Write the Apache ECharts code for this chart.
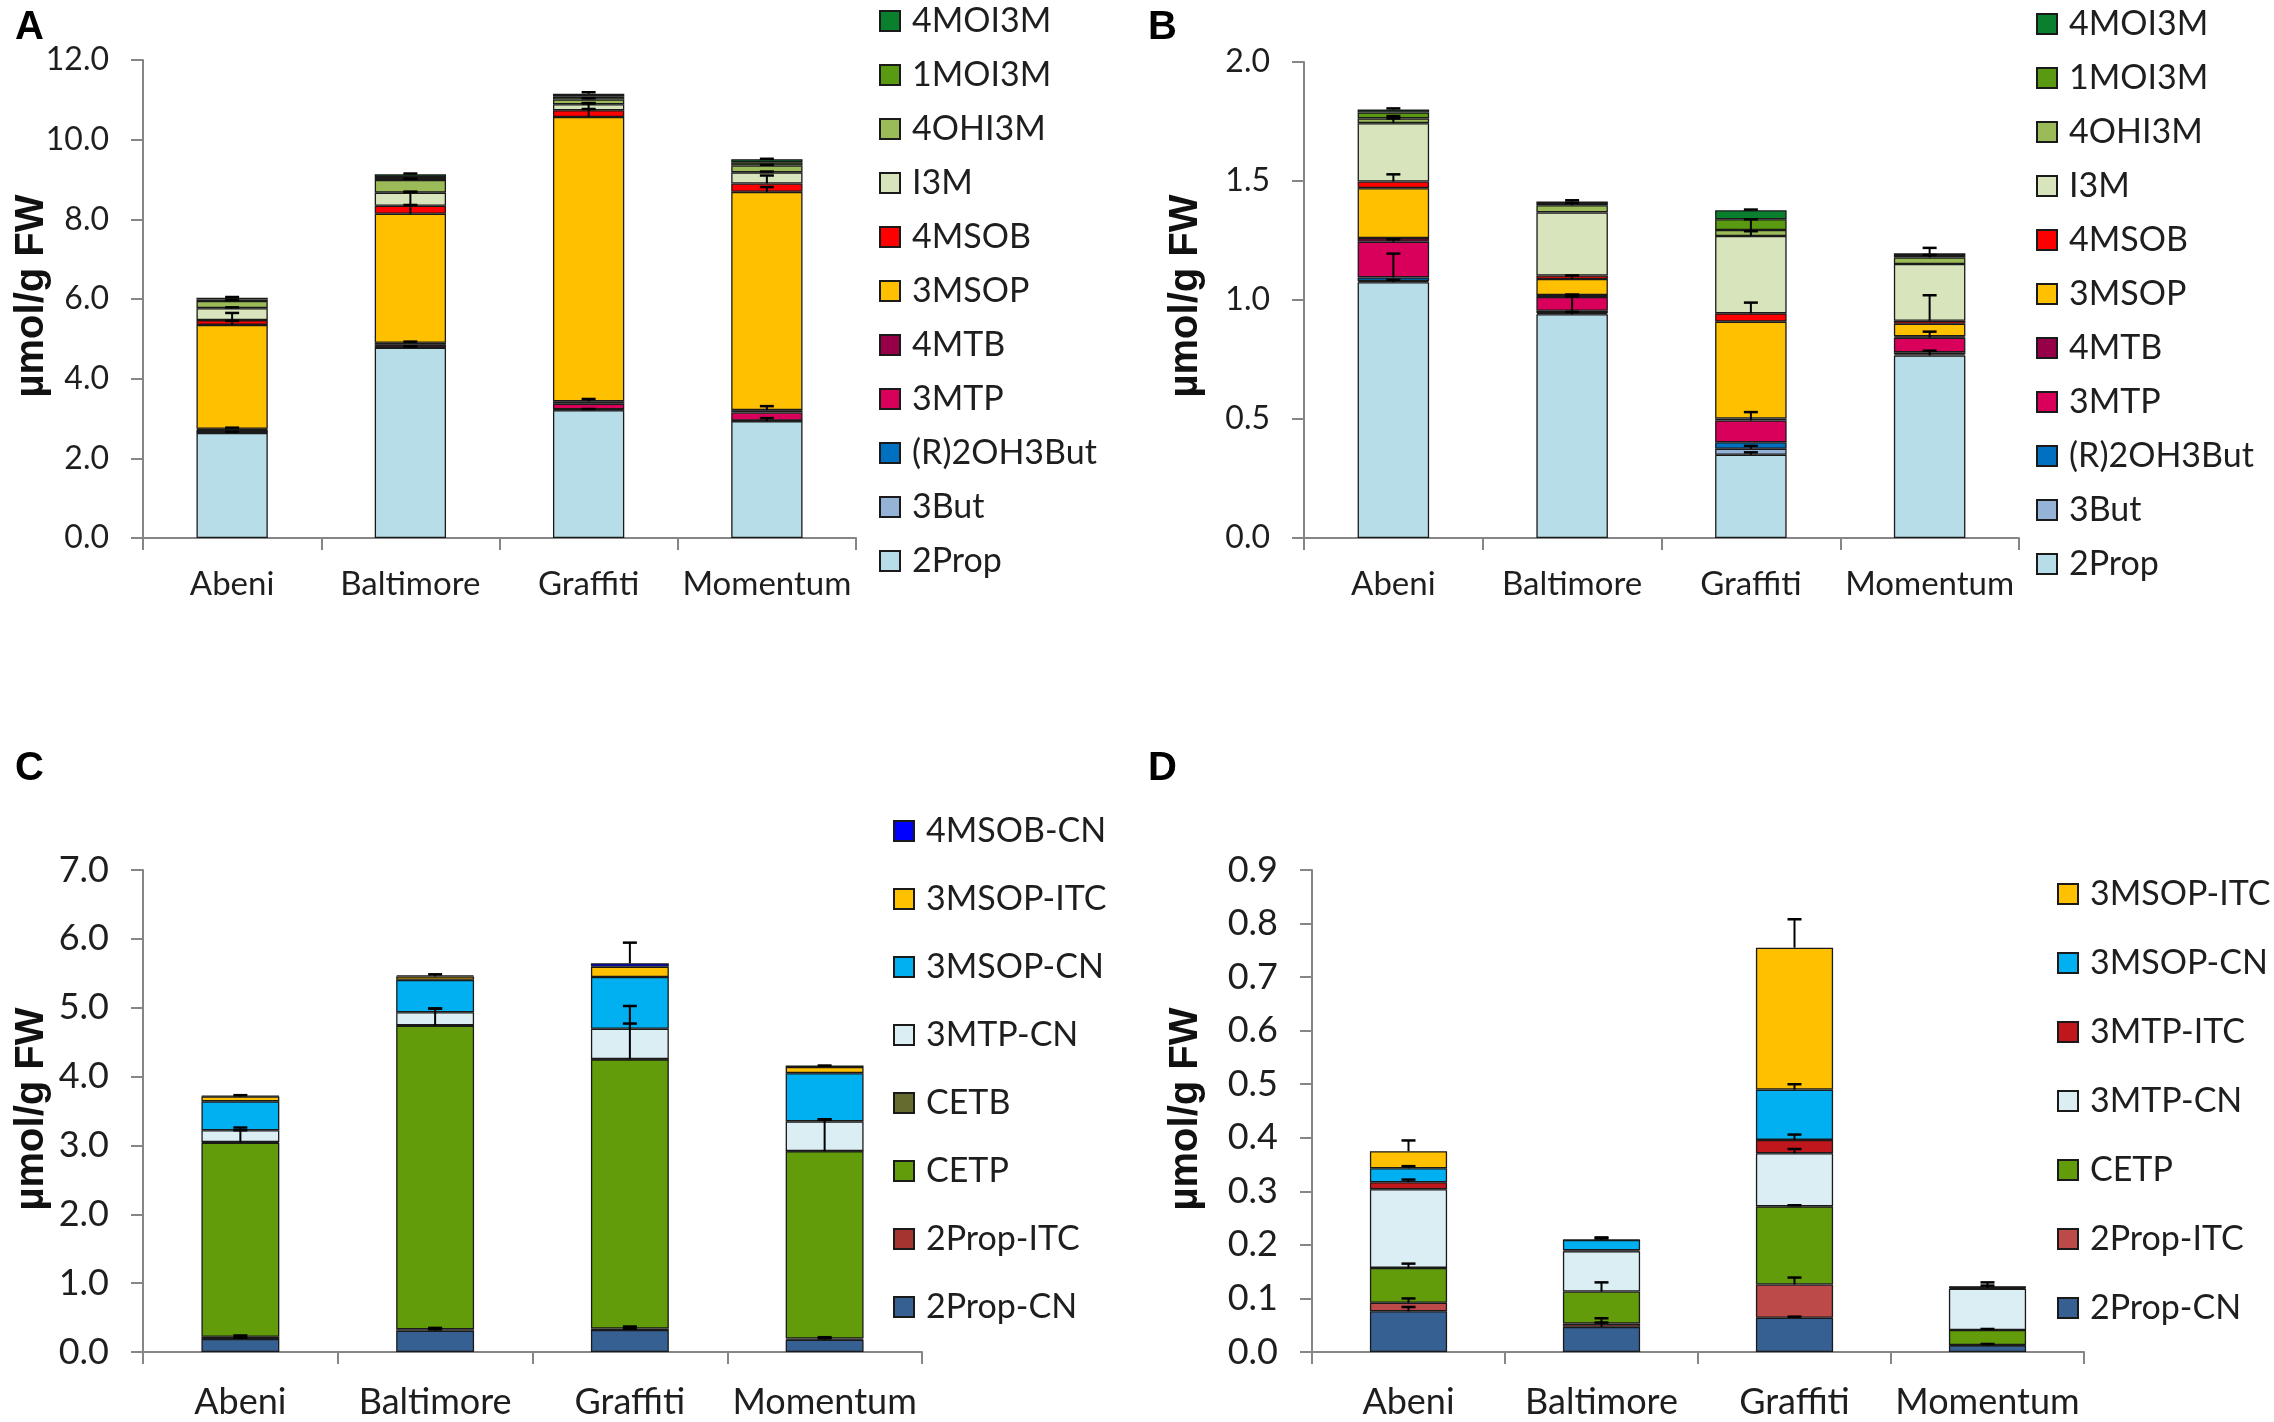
<!DOCTYPE html>
<html><head><meta charset="utf-8">
<script src="https://cdn.jsdelivr.net/npm/echarts@6/dist/echarts.min.js"></script>
<style>
html,body{margin:0;padding:0;background:#fff;width:2274px;height:1422px;overflow:hidden}
.p{position:absolute;width:1137px;height:711px}
</style></head>
<body>
<div id="pA" class="p" style="left:0;top:0"></div>
<div id="pB" class="p" style="left:1137px;top:0"></div>
<div id="pC" class="p" style="left:0;top:711px"></div>
<div id="pD" class="p" style="left:1137px;top:711px"></div>
<script>
// ---------- shared categories ----------
const categories = ['Abeni', 'Baltimore', 'Graffiti', 'Momentum'];

// ---------- Panel A (series bottom -> top) ----------
const seriesNamesA = ['2Prop', '3But', '(R)2OH3But', '3MTP', '4MTB', '3MSOP', '4MSOB', 'I3M', '4OHI3M', '1MOI3M', '4MOI3M'];
const A_2Prop   = [2.64, 4.78, 3.21, 2.93];
const A_3But    = [0.01, 0.01, 0.01, 0.01];
const A_R2OH3But= [0.01, 0.01, 0.01, 0.01];
const A_3MTP    = [0.06, 0.05, 0.14, 0.20];
const A_4MTB    = [0.02, 0.05, 0.06, 0.06];
const A_3MSOP   = [2.61, 3.24, 7.14, 5.48];
const A_4MSOB   = [0.12, 0.20, 0.17, 0.21];
const A_I3M     = [0.30, 0.33, 0.15, 0.28];
const A_4OHI3M  = [0.18, 0.32, 0.12, 0.17];
const A_1MOI3M  = [0.04, 0.07, 0.07, 0.08];
const A_4MOI3M  = [0.04, 0.07, 0.07, 0.08];
// error (SD, plus direction) at top of each segment
const Ae_2Prop   = [0.03, 0.03, 0.03, 0.08];
const Ae_3But    = [0, 0, 0, 0];
const Ae_R2OH3But= [0, 0, 0, 0];
const Ae_3MTP    = [0, 0, 0, 0];
const Ae_4MTB    = [0.03, 0.03, 0.06, 0.10];
const Ae_3MSOP   = [0.10, 0.22, 0.20, 0.12];
const Ae_4MSOB   = [0.18, 0.35, 0.17, 0.20];
const Ae_I3M     = [0.02, 0.02, 0.03, 0.02];
const Ae_4OHI3M  = [0.02, 0.03, 0.03, 0.02];
const Ae_1MOI3M  = [0, 0, 0, 0];
const Ae_4MOI3M  = [0.02, 0.02, 0.04, 0.01];
const yTicksA = [0, 12, 2];

// ---------- Panel B ----------
const B_2Prop   = [1.075, 0.94, 0.35, 0.767];
const B_3But    = [0.005, 0.005, 0.025, 0.005];
const B_R2OH3But= [0.015, 0.01, 0.027, 0.008];
const B_3MTP    = [0.15, 0.058, 0.092, 0.062];
const B_4MTB    = [0.015, 0.008, 0.008, 0.005];
const B_3MSOP   = [0.21, 0.067, 0.407, 0.053];
const B_4MSOB   = [0.028, 0.015, 0.035, 0.013];
const B_I3M     = [0.245, 0.265, 0.325, 0.238];
const B_4OHI3M  = [0.02, 0.03, 0.025, 0.028];
const B_1MOI3M  = [0.025, 0.01, 0.045, 0.01];
const B_4MOI3M  = [0.012, 0.006, 0.038, 0.007];
const Be_2Prop   = [0.01, 0.01, 0.01, 0.02];
const Be_3But    = [0, 0, 0.012, 0];
const Be_R2OH3But= [0.10, 0.06, 0, 0];
const Be_3MTP    = [0.01, 0.01, 0.035, 0.025];
const Be_4MTB    = [0, 0, 0, 0];
const Be_3MSOP   = [0, 0.015, 0, 0];
const Be_4MSOB   = [0.03, 0, 0.045, 0.107];
const Be_I3M     = [0.02, 0, 0.02, 0];
const Be_4OHI3M  = [0.01, 0.01, 0.045, 0.01];
const Be_1MOI3M  = [0, 0, 0, 0.03];
const Be_4MOI3M  = [0.005, 0.005, 0.003, 0];
const yTicksB = [0, 2, 0.5];

// ---------- Panel C ----------
const seriesNamesC = ['2Prop-CN', '2Prop-ITC', 'CETP', 'CETB', '3MTP-CN', '3MSOP-CN', '3MSOP-ITC', '4MSOB-CN'];
const C_2PropCN  = [0.19, 0.31, 0.32, 0.18];
const C_2PropITC = [0.03, 0.02, 0.02, 0.015];
const C_CETP     = [2.82, 4.41, 3.91, 2.72];
const C_CETB     = [0.01, 0.005, 0.005, 0.005];
const C_3MTPCN   = [0.17, 0.19, 0.44, 0.43];
const C_3MSOPCN  = [0.42, 0.47, 0.75, 0.70];
const C_3MSOPITC = [0.07, 0.05, 0.15, 0.09];
const C_4MSOBCN  = [0.01, 0.015, 0.05, 0.02];
const Ce_2PropCN  = [0.02, 0.02, 0.02, 0.02];
const Ce_2PropITC = [0.02, 0.02, 0.03, 0.02];
const Ce_CETP     = [0.18, 0.25, 0.52, 0.46];
const Ce_CETB     = [0, 0, 0, 0];
const Ce_3MTPCN   = [0.04, 0.05, 0.33, 0.03];
const Ce_3MSOPCN  = [0, 0, 0, 0];
const Ce_3MSOPITC = [0.02, 0.03, 0, 0.02];
const Ce_4MSOBCN  = [0, 0, 0.30, 0];
const yTicksC = [0, 7, 1];

// ---------- Panel D ----------
const seriesNamesD = ['2Prop-CN', '2Prop-ITC', 'CETP', '3MTP-CN', '3MTP-ITC', '3MSOP-CN', '3MSOP-ITC'];
const D_2PropCN  = [0.076, 0.047, 0.064, 0.012];
const D_2PropITC = [0.016, 0.006, 0.062, 0.001];
const D_CETP     = [0.065, 0.060, 0.146, 0.028];
const D_3MTPCN   = [0.147, 0.075, 0.099, 0.077];
const D_3MTPITC  = [0.013, 0.002, 0.025, 0.002];
const D_3MSOPCN  = [0.026, 0.019, 0.094, 0.001];
const D_3MSOPITC = [0.032, 0.001, 0.265, 0.001];
const De_2PropCN  = [0.008, 0.008, 0.002, 0.003];
const De_2PropITC = [0.008, 0.010, 0.013, 0];
const De_CETP     = [0.008, 0.017, 0.002, 0.002];
const De_3MTPCN   = [0, 0, 0.008, 0];
const De_3MTPITC  = [0.005, 0, 0.010, 0.010];
const De_3MSOPCN  = [0.004, 0.005, 0.010, 0];
const De_3MSOPITC = [0.020, 0.002, 0.053, 0.002];
const yTicksD = [0, 0.9, 0.1];

const yTitle = 'µmol/g FW';

// ---------- styles ----------
const colorsAB = ['#B7DEE8', '#95B3D7', '#0070C0', '#D9005B', '#970049', '#FFC000', '#FF0000', '#D7E4BC', '#9BBB59', '#5A9A12', '#0A7F2E'];
const colorsC = ['#376092', '#A5332F', '#629C0A', '#656B2F', '#DAEEF3', '#00B0F0', '#FFC000', '#0000FF'];
const colorsD = ['#376092', '#BC4A48', '#629C0A', '#DAEEF3', '#C0171C', '#00B0F0', '#FFC000'];
const FONT = 'Lato, "Open Sans", sans-serif';
const AXIS_COLOR = '#868686';
const TEXT_COLOR = '#1e1e1e';

function buildPanel(elId, p) {
  const chart = echarts.init(document.getElementById(elId), null, {renderer: 'canvas'});
  const series = p.names.map((n, k) => ({
    name: n, type: 'bar', stack: 'total', barWidth: '40%',
    data: p.values[k],
    itemStyle: {color: p.colors[k], borderColor: '#1a1a1a', borderWidth: 1.3},
    emphasis: {disabled: true}
  }));
  const errData = [];
  categories.forEach((c, i) => {
    let cum = 0;
    p.values.forEach((vals, k) => {
      cum += vals[i];
      const e = p.errors[k][i];
      if (e > 0) errData.push([i, cum, cum + e]);
    });
  });
  series.push({
    type: 'custom', name: 'err', data: errData, z: 10,
    encode: {x: 0, y: [1, 2]},
    renderItem: (params, api) => {
      const x = api.value(0), y0 = api.value(1), y1 = api.value(2);
      const a = api.coord([x, y0]), b = api.coord([x, y1]);
      const c = 7;
      return {type: 'group', children: [
        {type: 'line', shape: {x1: a[0], y1: a[1], x2: b[0], y2: b[1]}, style: {stroke: '#000', lineWidth: 2}},
        {type: 'line', shape: {x1: b[0] - c, y1: b[1], x2: b[0] + c, y2: b[1]}, style: {stroke: '#000', lineWidth: 2.5}}
      ]};
    }
  });
  chart.setOption({
    animation: false,
    backgroundColor: '#fff',
    grid: {left: p.grid[0], top: p.grid[1], right: p.grid[2], bottom: p.grid[3], containLabel: false},
    legend: {
      data: p.names.slice().reverse(), orient: 'vertical', left: p.legend[0], top: p.legend[1],
      itemWidth: 20, itemHeight: 20, itemGap: p.legend[2], icon: 'rect', selectedMode: false,
      textStyle: {fontSize: p.legendFont, lineHeight: p.legendFont, color: TEXT_COLOR, fontFamily: FONT,
        padding: [0, 0, 0, 7]}
    },
    xAxis: {
      type: 'category', data: categories,
      axisLine: {lineStyle: {color: AXIS_COLOR, width: 2}},
      axisTick: {show: true, length: 12, lineStyle: {color: AXIS_COLOR, width: 2}},
      axisLabel: {interval: 0, fontSize: p.xFont, color: TEXT_COLOR, fontFamily: FONT, margin: p.xMargin}
    },
    yAxis: {
      type: 'value', min: p.yTicks[0], max: p.yTicks[1], interval: p.yTicks[2],
      splitLine: {show: false},
      axisLine: {show: true, lineStyle: {color: AXIS_COLOR, width: 2}},
      axisTick: {show: true, length: 12, lineStyle: {color: AXIS_COLOR, width: 2}},
      axisLabel: {fontSize: p.yFont, color: TEXT_COLOR, fontFamily: FONT, margin: 34,
        formatter: v => v.toFixed(1)}
    },
    graphic: [
      {type: 'text', x: p.title[0], y: p.title[1], rotation: Math.PI / 2,
        style: {text: yTitle, fontSize: 40, fontWeight: 'bold', fontFamily: '"Liberation Sans", Arial, sans-serif',
          fill: '#111', textAlign: 'center', textVerticalAlign: 'middle'}},
      {type: 'text', x: p.label[0], y: p.label[1],
        style: {text: p.letter, fontSize: 40, fontWeight: 'bold', fontFamily: '"Liberation Sans", Arial, sans-serif',
          fill: '#000', textAlign: 'left', textVerticalAlign: 'middle'}}
    ],
    series: series
  });
}

buildPanel('pA', {
  letter: 'A', names: seriesNamesA, colors: colorsAB,
  values: [A_2Prop, A_3But, A_R2OH3But, A_3MTP, A_4MTB, A_3MSOP, A_4MSOB, A_I3M, A_4OHI3M, A_1MOI3M, A_4MOI3M],
  errors: [Ae_2Prop, Ae_3But, Ae_R2OH3But, Ae_3MTP, Ae_4MTB, Ae_3MSOP, Ae_4MSOB, Ae_I3M, Ae_4OHI3M, Ae_1MOI3M, Ae_4MOI3M],
  yTicks: yTicksA, grid: [143, 60, 281, 173], legend: [874, -1, 20], legendFont: 34,
  xFont: 33, yFont: 32, xMargin: 30, title: [32, 296], label: [15, 28]
});
buildPanel('pB', {
  letter: 'B', names: seriesNamesA, colors: colorsAB,
  values: [B_2Prop, B_3But, B_R2OH3But, B_3MTP, B_4MTB, B_3MSOP, B_4MSOB, B_I3M, B_4OHI3M, B_1MOI3M, B_4MOI3M],
  errors: [Be_2Prop, Be_3But, Be_R2OH3But, Be_3MTP, Be_4MTB, Be_3MSOP, Be_4MSOB, Be_I3M, Be_4OHI3M, Be_1MOI3M, Be_4MOI3M],
  yTicks: yTicksB, grid: [167, 62, 255, 173], legend: [894, 2, 20], legendFont: 34,
  xFont: 33, yFont: 32, xMargin: 30, title: [49, 296], label: [11, 28]
});
buildPanel('pC', {
  letter: 'C', names: seriesNamesC, colors: colorsC,
  values: [C_2PropCN, C_2PropITC, C_CETP, C_CETB, C_3MTPCN, C_3MSOPCN, C_3MSOPITC, C_4MSOBCN],
  errors: [Ce_2PropCN, Ce_2PropITC, Ce_CETP, Ce_CETB, Ce_3MTPCN, Ce_3MSOPCN, Ce_3MSOPITC, Ce_4MSOBCN],
  yTicks: yTicksC, grid: [143, 159, 215, 70], legend: [888, 98, 34], legendFont: 34,
  xFont: 36, yFont: 36, xMargin: 32, title: [32, 398], label: [15, 58]
});
buildPanel('pD', {
  letter: 'D', names: seriesNamesD, colors: colorsD,
  values: [D_2PropCN, D_2PropITC, D_CETP, D_3MTPCN, D_3MTPITC, D_3MSOPCN, D_3MSOPITC],
  errors: [De_2PropCN, De_2PropITC, De_CETP, De_3MTPCN, De_3MTPITC, De_3MSOPCN, De_3MSOPITC],
  yTicks: yTicksD, grid: [175, 159, 190, 70], legend: [915, 161, 35], legendFont: 34,
  xFont: 36, yFont: 36, xMargin: 32, title: [49, 398], label: [11, 58]
});
</script>
</body></html>
